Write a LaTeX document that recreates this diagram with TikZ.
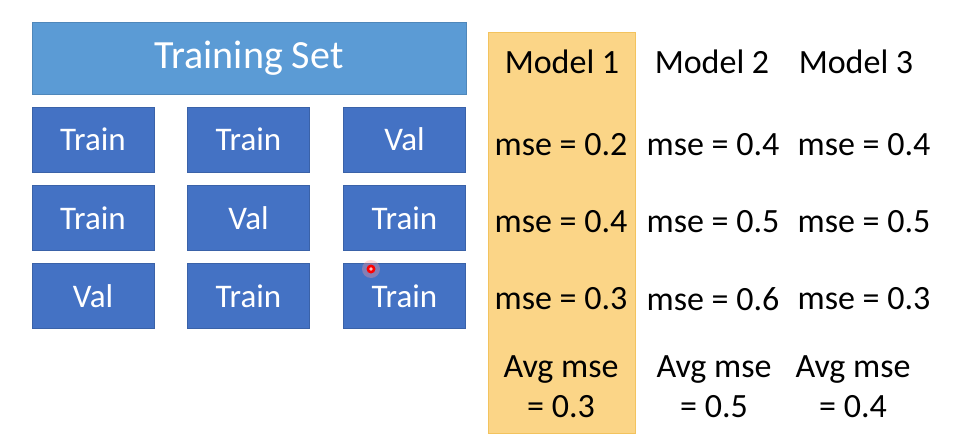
\documentclass[tikz,border=0pt]{standalone}
\usepackage{fontspec}
\setmainfont{Carlito}
\definecolor{lblue}{HTML}{5B9BD5}
\definecolor{lblueb}{HTML}{4F87BA}
\definecolor{dblue}{HTML}{4472C4}
\definecolor{dblueb}{HTML}{3A62A8}
\definecolor{gold}{HTML}{FBD587}
\definecolor{goldb}{HTML}{F3C35E}
\tikzset{
  bluebox/.style={draw=dblueb, line width=0.8pt, fill=dblue, text=white, minimum width=122pt, minimum height=65pt, inner sep=0pt, font=\fontsize{33}{38}\selectfont},
  topbox/.style={draw=lblueb, line width=0.8pt, fill=lblue, text=white, minimum width=434pt, minimum height=72pt, inner sep=0pt, font=\fontsize{40}{46}\selectfont},
  colbox/.style={draw=goldb, line width=0.8pt, fill=gold, minimum width=147pt, minimum height=401pt, inner sep=0pt},
  cell/.style={text=black, inner sep=0pt, font=\fontsize{34}{40}\selectfont, align=center}
}
\begin{document}
\begin{tikzpicture}[x=1pt,y=-1pt]
\useasboundingbox (0,0) rectangle (970,447);
\node[topbox] (ts) at (249,58) {\raisebox{-2pt}{Training Set}};
% grid
\node[bluebox] (b11) at (93,139.5) {\raisebox{-2pt}{Train}};
\node[bluebox] (b12) at (248.5,139.5) {\raisebox{-2pt}{Train}};
\node[bluebox] (b13) at (404.5,139.5) {\raisebox{-2pt}{Val}};
\node[bluebox] (b21) at (93,218) {\raisebox{-2pt}{Train}};
\node[bluebox] (b22) at (248.5,218) {\raisebox{-2pt}{Val}};
\node[bluebox] (b23) at (404.5,218) {\raisebox{-2pt}{Train}};
\node[bluebox] (b31) at (93,296) {\raisebox{-2pt}{Val}};
\node[bluebox] (b32) at (248.5,296) {\raisebox{-2pt}{Train}};
\node[bluebox] (b33) at (404.5,296) {\raisebox{-2pt}{Train}};
% model 1 column
\node[colbox] (col) at (561.5,232.5) {};
\node[cell] (m1) at (562,62) {Model 1};
\node[cell] (m2) at (712,62) {Model 2};
\node[cell] (m3) at (856,62) {Model 3};
\node[cell] (a1) at (561,145) {mse = 0.2};
\node[cell] (a2) at (713,145) {mse = 0.4};
\node[cell] (a3) at (864,145) {mse = 0.4};
\node[cell] (c1) at (561,222) {mse = 0.4};
\node[cell] (c2) at (713,222) {mse = 0.5};
\node[cell] (c3) at (864,222) {mse = 0.5};
\node[cell] (d1) at (561,299) {mse = 0.3};
\node[cell] (d2) at (713,299) {mse = 0.6};
\node[cell] (d3) at (864,299) {mse = 0.3};
\node[cell] (e1) at (561,387) {Avg mse\\= 0.3};
\node[cell] (e2) at (714,387) {Avg mse\\= 0.5};
\node[cell] (e3) at (853,387) {Avg mse\\= 0.4};
% laser pointer dot
\fill[red!40, opacity=0.35] (371,269) circle (9);
\fill[red] (371,269) circle (4.5);
\fill[red!25] (371,269) circle (1.8);
\end{tikzpicture}
\end{document}
